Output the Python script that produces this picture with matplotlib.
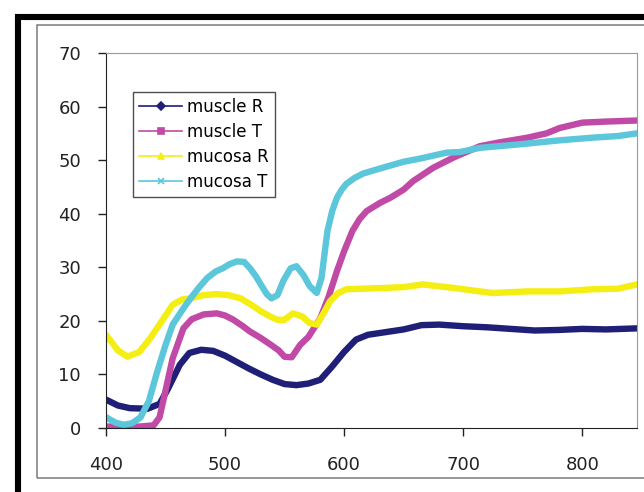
import matplotlib
matplotlib.use("Agg")
import matplotlib.pyplot as plt
import matplotlib.patches as patches
from matplotlib.lines import Line2D

# wavelength (nm) / value readings, one pair of lists per series
wl_muscle_r = [400, 410, 420, 435, 445, 452, 462, 470, 480, 490, 500, 510, 520, 530, 540, 550, 560,
               570, 580, 590, 600, 610, 620, 635, 650, 665, 680, 700, 720, 740, 760, 780, 800, 820, 846]
muscle_r = [5.3, 4.2, 3.7, 3.6, 4.5, 7.3, 11.8, 14.0, 14.6, 14.4, 13.5, 12.3, 11.1, 10.0, 9.0, 8.2, 8.0,
            8.3, 9.0, 11.5, 14.2, 16.5, 17.4, 17.9, 18.4, 19.2, 19.3, 19.0, 18.8, 18.5, 18.2, 18.3, 18.5, 18.4, 18.6]

wl_muscle_t = [400, 410, 420, 430, 440, 445, 450, 456, 465, 472, 482, 493, 500, 507, 515, 521, 530, 538,
               545, 550, 556, 563, 570, 580, 587, 594, 600, 607, 613, 619, 630, 639, 650, 658, 675, 692,
               714, 730, 754, 770, 781, 800, 820, 846]
muscle_t = [0.3, 0.2, 0.2, 0.3, 0.5, 2, 7, 13, 18.6, 20.3, 21.2, 21.4, 21, 20.2, 19, 18, 16.8, 15.6,
            14.5, 13.3, 13.2, 15.5, 17, 20.5, 24.5, 29.3, 33, 36.8, 39, 40.5, 42, 43, 44.5, 46.1, 48.6, 50.5,
            52.6, 53.3, 54.2, 55, 56, 57, 57.2, 57.4]

wl_mucosa_r = [400, 410, 418, 428, 437, 447, 456, 464, 471, 482, 493, 503, 513, 522, 530, 538, 544, 550,
               557, 565, 571, 577, 583, 588, 595, 602, 615, 630, 650, 666, 690, 714, 725, 754, 781, 809, 830, 846]
mucosa_r = [17.4, 14.5, 13.3, 14.2, 16.7, 20, 23, 24, 24.2, 24.8, 25, 24.8, 24.2, 23, 21.8, 20.8, 20.2, 20.2,
            21.4, 20.8, 19.6, 19.3, 21.5, 23.6, 25.2, 25.9, 26.0, 26.1, 26.3, 26.8, 26.2, 25.5, 25.2, 25.5,
            25.5, 25.9, 26.0, 26.8]

wl_mucosa_t = [400, 408, 415, 422, 429, 436, 443, 450, 456, 464, 471, 478, 485, 492, 498, 504, 510, 516,
               521, 526, 530, 535, 539, 544, 549, 555, 560, 566, 571, 577, 581, 586, 590, 594, 598, 602,
               609, 616, 628, 639, 650, 664, 686, 697, 714, 740, 754, 781, 809, 830, 846]
mucosa_t = [2, 1.0, 0.6, 0.9, 2, 5, 10.5, 15.5, 19.3, 22, 24.2, 26.2, 28, 29.2, 29.8, 30.6, 31.1, 31.0,
            29.8, 28.3, 26.8, 25.0, 24.2, 24.8, 27.5, 29.8, 30.2, 28.5, 26.5, 25.2, 28, 36.8, 40.5, 43,
            44.5, 45.6, 46.7, 47.5, 48.3, 49, 49.7, 50.3, 51.4, 51.5, 52.3, 52.8, 53.1, 53.7, 54.2, 54.5, 55]

labels = ["muscle R", "muscle T", "mucosa R", "mucosa T"]
colors = ["#1f1f78", "#c04aa6", "#f4ee12", "#5cc6da"]
markers = ["D", "s", "^", "x"]
x_ticks = [400, 500, 600, 700, 800]
y_ticks = [0, 10, 20, 30, 40, 50, 60, 70]

W, H = 644, 492
fig = plt.figure(figsize=(W / 100, H / 100), dpi=100)
fig.patch.set_facecolor("white")

# outer black border and inner grey frame (cropped on the right like the source)
fig.add_artist(patches.Rectangle((18 / W, -0.1), 1.2, 1 - 16.5 / H + 0.1, transform=fig.transFigure,
                                 fill=False, edgecolor="black", linewidth=4.4))
fig.add_artist(patches.Rectangle((37 / W, 1 - 478 / H), 1.2, (478 - 25) / H, transform=fig.transFigure,
                                 fill=False, edgecolor="#7a7a7a", linewidth=1.1))

ax = fig.add_axes([106 / W, 1 - 428 / H, (637 - 106) / W, (428 - 53) / H])
series = [(wl_muscle_r, muscle_r), (wl_muscle_t, muscle_t), (wl_mucosa_r, mucosa_r), (wl_mucosa_t, mucosa_t)]
for (x, y), c in zip(series, colors):
    ax.plot(x, y, color=c, linewidth=4.6, solid_capstyle="round", solid_joinstyle="round", clip_on=True)

ax.set_xlim(400, 846)
ax.set_ylim(0, 70)
ax.set_xticks(x_ticks)
ax.set_yticks(y_ticks)
ax.tick_params(axis="both", direction="out", length=6, width=1, colors="#222222", labelsize=13)
ax.tick_params(axis="x", pad=14)
ax.tick_params(axis="y", pad=12)
for s in ["left", "bottom"]:
    ax.spines[s].set_color("#222222")
for s in ["top", "right"]:
    ax.spines[s].set_color("#9a9a9a")

handles = [Line2D([0], [0], color=c, marker=m, markersize=4, linewidth=1.2, markeredgewidth=1.2)
           for c, m in zip(colors, markers)]
leg = fig.legend(handles, labels, loc="upper left", bbox_to_anchor=(133 / W, 1 - 92 / H),
                 bbox_transform=fig.transFigure, borderaxespad=0, fontsize=12, frameon=True,
                 fancybox=False, edgecolor="#222222", handlelength=2.6, handletextpad=0.3,
                 labelspacing=0.42, borderpad=0.35)
leg.get_frame().set_linewidth(1.0)

fig.savefig("out.png", dpi=100)
